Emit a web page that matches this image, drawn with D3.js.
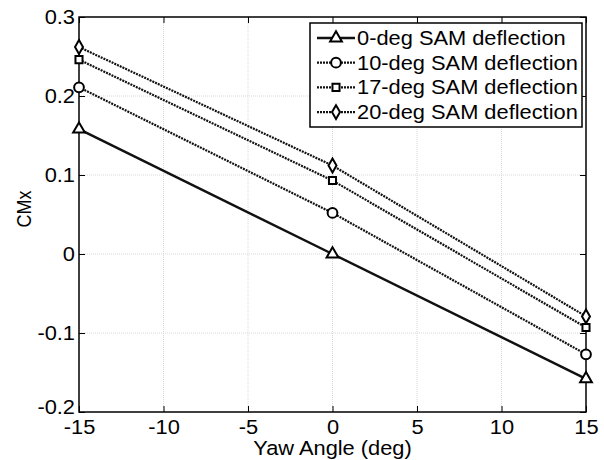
<!DOCTYPE html>
<html>
<head>
<meta charset="utf-8">
<script src="https://cdn.jsdelivr.net/npm/d3@7"></script>
<style>
  body { margin: 0; background: #fff; }
  text { font-family: "Liberation Sans", Arial, sans-serif; fill: #000; }
</style>
</head>
<body>
<div id="chart"></div>
<script>
// data
var yawAngles = [-15, 0, 15];
var seriesNames = ["0-deg SAM deflection", "10-deg SAM deflection", "17-deg SAM deflection", "20-deg SAM deflection"];
var cmx0 = [0.158, 0.0, -0.158];
var cmx10 = [0.211, 0.052, -0.127];
var cmx17 = [0.246, 0.093, -0.093];
var cmx20 = [0.262, 0.112, -0.079];
var xTicks = [-15, -10, -5, 0, 5, 10, 15];
var yTicks = [-0.2, -0.1, 0, 0.1, 0.2, 0.3];

function init() {
    var w = 604, h = 460;
    var left = 79, right = 586, top = 17, bottom = 412;
    var fs = 19.5;
    var sx = 1.12;   // the reference text is a little wider than tall

    var svg = d3.select("#chart").append("svg")
        .attr("width", w).attr("height", h);

    var xScale = d3.scaleLinear().domain([-15, 15]).range([left, right]);
    var yScale = d3.scaleLinear().domain([-0.2, 0.3]).range([bottom, top]);

    //grid
    svg.append("g").selectAll("line").data(xTicks.slice(1, -1)).enter().append("line")
        .attr("x1", function(d) { return xScale(d); }).attr("x2", function(d) { return xScale(d); })
        .attr("y1", top).attr("y2", bottom)
        .attr("stroke", "#d8d8d8").attr("stroke-width", 1).attr("stroke-dasharray", "1,1");
    svg.append("g").selectAll("line").data(yTicks.slice(1, -1)).enter().append("line")
        .attr("y1", function(d) { return yScale(d); }).attr("y2", function(d) { return yScale(d); })
        .attr("x1", left).attr("x2", right)
        .attr("stroke", "#d8d8d8").attr("stroke-width", 1).attr("stroke-dasharray", "1,1");

    //axes (plain hyphen for the minus sign, like the reference)
    var xAxis = d3.axisBottom(xScale).tickValues(xTicks).tickSize(-6).tickPadding(8)
        .tickFormat(function(d) { return String(d); });
    var yAxis = d3.axisLeft(yScale).tickValues(yTicks).tickSize(-6).tickPadding(4)
        .tickFormat(function(d) { return d === 0 ? "0" : d.toFixed(1); });

    var gx = svg.append("g").attr("transform", "translate(0," + bottom + ")").call(xAxis);
    var gy = svg.append("g").attr("transform", "translate(" + left + ",0)").call(yAxis);
    [gx, gy].forEach(function(g) {
        g.select(".domain").remove();
        g.selectAll("line").attr("stroke", "#000");
        g.selectAll("text")
            .attr("font-size", fs)
            .attr("font-family", "Liberation Sans, Arial, sans-serif")
            .attr("transform", "scale(" + sx + ",1)");
    });
    gy.selectAll("text").attr("x", -4 / sx);
    // the lowest y label sits a little higher in the reference
    gy.selectAll("text").filter(function(d) { return d === -0.2; }).attr("y", -5);
    // ticks on top and right
    svg.append("g").attr("transform", "translate(0," + top + ")")
        .call(d3.axisTop(xScale).tickValues(xTicks).tickSize(-6).tickFormat(""))
        .call(function(g) { g.select(".domain").remove(); });
    svg.append("g").attr("transform", "translate(" + right + ",0)")
        .call(d3.axisRight(yScale).tickValues(yTicks).tickSize(-6).tickFormat(""))
        .call(function(g) { g.select(".domain").remove(); });

    svg.append("rect")
        .attr("x", left).attr("y", top)
        .attr("width", right - left).attr("height", bottom - top)
        .attr("fill", "none").attr("stroke", "#000").attr("stroke-width", 1.5);

    //labels
    svg.append("text")
        .attr("transform", "translate(" + ((left + right) / 2) + ",455) scale(" + sx + ",1)")
        .attr("text-anchor", "middle").attr("font-size", fs)
        .text("Yaw Angle (deg)");
    svg.append("text")
        .attr("transform", "translate(31,209) rotate(-90) scale(1," + sx + ")")
        .attr("text-anchor", "middle").attr("font-size", 18)
        .text("CMx");

    var series = [
        { name: seriesNames[0], values: cmx0, dash: null, width: 2.5, symbol: d3.symbolTriangle, size: 60 },
        { name: seriesNames[1], values: cmx10, dash: "2,1", width: 2.2, symbol: d3.symbolCircle, size: 75 },
        { name: seriesNames[2], values: cmx17, dash: "2,1", width: 2.2, symbol: d3.symbolSquare, size: 50 },
        { name: seriesNames[3], values: cmx20, dash: "2,1", width: 2.2, symbol: d3.symbolDiamond, size: 55 }
    ];

    var line = d3.line()
        .x(function(d, i) { return xScale(yawAngles[i]); })
        .y(function(d) { return yScale(d); });

    series.forEach(function(s) {
        svg.append("path")
            .datum(s.values)
            .attr("d", line)
            .attr("fill", "none")
            .attr("stroke", "#111")
            .attr("stroke-width", s.width)
            .attr("stroke-dasharray", s.dash);

        svg.append("g").selectAll("path").data(s.values).enter().append("path")
            .attr("transform", function(d, i) {
                return "translate(" + xScale(yawAngles[i]) + "," + yScale(d) + ")";
            })
            .attr("d", d3.symbol().type(s.symbol).size(s.size))
            .attr("fill", "#fff")
            .attr("stroke", "#000")
            .attr("stroke-width", 2);
    });

    //legend
    var lg = svg.append("g");
    lg.append("rect")
        .attr("x", 310).attr("y", 23).attr("width", 272).attr("height", 104)
        .attr("fill", "#fff").attr("stroke", "#000").attr("stroke-width", 1.5);
    series.forEach(function(s, i) {
        var cy = 38 + i * 24.7;
        lg.append("line")
            .attr("x1", 317).attr("x2", 355).attr("y1", cy).attr("y2", cy)
            .attr("stroke", "#111").attr("stroke-width", s.width)
            .attr("stroke-dasharray", s.dash);
        lg.append("path")
            .attr("transform", "translate(336," + cy + ")")
            .attr("d", d3.symbol().type(s.symbol).size(s.size))
            .attr("fill", "#fff").attr("stroke", "#000").attr("stroke-width", 2);
        lg.append("text")
            .attr("transform", "translate(357," + (cy + 7) + ") scale(" + sx + ",1)")
            .attr("font-size", fs)
            .text(s.name);
    });
}
window.onload = init;
</script>
</body>
</html>
